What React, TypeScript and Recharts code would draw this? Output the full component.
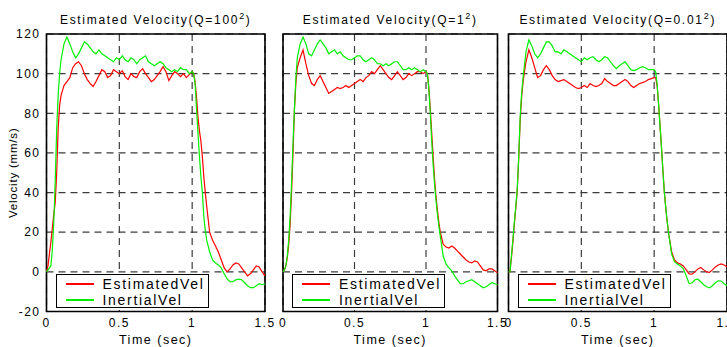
import { LineChart, Line, XAxis, YAxis, CartesianGrid, ReferenceArea, Legend } from 'recharts';

// time axis (sec): dense on the edges, coarser on the plateau
const TIME = [
  0, 0.01, 0.02, 0.03, 0.04, 0.05, 0.06, 0.07, 0.08, 0.09, 0.1,
  0.12, 0.14, 0.16, 0.18, 0.2, 0.22, 0.24, 0.26, 0.28, 0.3,
  0.32, 0.34, 0.36, 0.38, 0.4, 0.42, 0.44, 0.46, 0.48, 0.5,
  0.52, 0.54, 0.56, 0.58, 0.6, 0.62, 0.64, 0.66, 0.68, 0.7,
  0.72, 0.74, 0.76, 0.78, 0.8, 0.82, 0.84, 0.86, 0.88, 0.9,
  0.92, 0.94, 0.96, 0.98, 1.0,
  1.01, 1.02, 1.03, 1.04, 1.05, 1.06, 1.07, 1.08, 1.09, 1.1,
  1.12, 1.14, 1.16, 1.18, 1.2, 1.22, 1.24, 1.26, 1.28, 1.3,
  1.32, 1.34, 1.36, 1.38, 1.4, 1.42, 1.44, 1.46, 1.48, 1.5,
];

// Q = 100^2
const EST_Q100 = [
  0, 3, 9, 15, 22, 29, 35, 50, 72, 84, 89,
  94, 96, 98, 103, 105, 106, 104, 100, 97, 95,
  93.5, 96, 99, 102, 101, 98, 99, 102, 101, 100,
  101.5, 98.5, 97, 100, 98.5, 98, 101, 102.5, 100, 98,
  96, 97, 99, 101, 103.5, 101, 96.5, 99, 101, 100,
  98.5, 100, 98, 99.5, 101,
  100, 96, 88, 78, 71, 66, 58, 48, 40, 33,
  20, 16, 13, 10, 6, 2, 0, 1.5, 3.5, 4.5,
  4, 2, 0, -2, -1, 1, 3, 2.5, 0, -2,
];
const INE_Q100 = [
  0, 1, 2, 3, 11, 25, 46, 72, 89, 100, 107,
  115, 118.5, 115, 111, 108, 110, 113, 116, 115, 113,
  111, 110, 112, 110, 109, 108, 107, 106, 108, 107,
  109, 107, 106, 108, 107, 105, 107, 108, 109, 106,
  105, 104, 105, 106, 105, 103, 102, 101, 102, 101,
  103, 102, 102, 100, 101,
  100, 95, 82, 70, 58, 48, 40, 28, 21, 16,
  10, 6, 4.5, 3.5, 2, -1, -3.5, -5, -5, -4,
  -3.7, -4, -5.5, -7, -8, -8, -7, -6, -6.5, -6,
];

// Q = 1^2
const EST_Q1 = [
  0, 1, 3, 7, 14, 24, 40, 60, 82, 95, 103,
  108, 112, 105, 99, 95, 94, 97, 99, 96, 93,
  90, 91, 92, 93, 92.5, 93, 94, 93, 94, 95,
  96, 97, 96, 98, 99, 101, 100, 102, 104, 102,
  100, 98, 97, 99, 101, 99, 97, 98, 100, 99,
  100, 101, 101, 100, 101,
  100, 93, 82, 70, 58, 47, 38, 31, 25, 20,
  14, 12.5, 12, 13, 12, 10.5, 9, 7.5, 6, 5,
  4.5, 5.5, 5, 3, 1, 0.5, 1.5, 1.5, 0.5, -0.5,
];
const INE_Q1 = [
  0, 1, 3, 8, 16, 28, 45, 65, 82, 98, 108,
  115, 118.5, 115, 110, 109, 112, 115, 117, 115, 113,
  110, 111, 112, 110, 111, 109, 108, 107, 107, 108,
  109, 109, 107, 106, 107, 108, 107, 105, 105, 104,
  105, 104, 105, 106, 106, 104, 102, 102, 103, 102,
  103, 102, 101, 102, 101,
  100, 92, 80, 66, 54, 44, 36, 29, 23, 18,
  8, 4, 2, 0.5, -2, -4, -6, -6, -5, -4.5,
  -4, -5, -6, -7, -8, -7.5, -6.5, -5.5, -6, -6.5,
];

// Q = 0.01^2
const EST_Q001 = [
  0, 0, 7, 15, 24, 32, 41, 57, 76, 88, 96,
  106, 112, 108, 103, 98, 99, 102, 104, 102, 99,
  97, 96, 96.5, 97, 96, 95, 94, 93, 92.5, 93,
  94, 93, 95, 94, 93.5, 94, 95, 97.5, 96, 95,
  94, 94, 95, 96, 97, 96, 94, 93, 94, 95,
  95.5, 96, 97, 97.5, 98,
  98, 94, 85, 74, 63, 51, 40, 32, 25, 19,
  10, 6, 4.5, 4, 3, 1, -1, -1.2, 0, 1.5,
  2.2, 1, 0, -0.3, 1, 2.5, 3.5, 4, 3.5, 2.5,
];
const INE_Q001 = [
  0, 0, 8, 16, 25, 33, 42, 58, 78, 90, 98,
  111, 117, 114, 110, 108, 110, 113, 116, 116, 114,
  111, 111, 110, 112, 111, 110, 109, 108, 107, 106,
  108, 107, 108, 108.5, 107, 106, 107, 108.5, 108, 106,
  104, 102.5, 104, 105, 106, 104, 102, 101.5, 102, 103,
  103.5, 103, 102, 102, 102,
  101, 95, 85, 74, 63, 51, 40, 32, 25, 19,
  9, 5, 4, 3, 1.5, -2, -6, -5.5, -4, -3.7,
  -5, -6.5, -7.5, -8, -7, -5.5, -4.5, -4.6, -6, -7,
];

const X_TICKS = [0, 0.5, 1, 1.5];
const Y_TICKS = [-20, 0, 20, 40, 60, 80, 100, 120];

const FONT = '"Liberation Sans", Arial, Helvetica, sans-serif';

function LegendBox({ payload }: any) {
  return (
    <div
      style={{
        width: 151,
        height: 32,
        border: '1.5px solid #000',
        background: '#fff',
        fontFamily: FONT,
        fontSize: 14,
        letterSpacing: 1.7,
        color: '#000',
      }}
    >
      {(payload || []).map((p: any, i: number) => (
        <div key={i} style={{ display: 'flex', alignItems: 'center', height: 16, marginTop: i === 0 ? 1 : 0 }}>
          <span style={{ display: 'inline-block', width: 28, height: 1.3, background: p.color, marginLeft: 9, marginRight: 9 }} />
          <span style={{ lineHeight: '16px' }}>{p.value}</span>
        </div>
      ))}
    </div>
  );
}

type PanelProps = {
  left: number;
  width: number;
  plotLeft: number;
  plotWidth: number;
  q: string;
  est: number[];
  ine: number[];
  showY: boolean;
};

function Panel({ left, width, plotLeft, plotWidth, q, est, ine, showY }: PanelProps) {
  const rows = TIME.map((t, i) => ({ t, est: est[i], ine: ine[i] }));
  const yw = showY ? 46 : 0;
  const ml = plotLeft - left - yw;
  const mr = width - ml - yw - plotWidth;
  return (
    <div style={{ position: 'absolute', left, top: 0, width, height: 347 }}>
      <div
        style={{
          position: 'absolute',
          left: plotLeft - left - 20,
          width: plotWidth + 40,
          top: 13,
          textAlign: 'center',
          fontSize: 12,
          lineHeight: '14px',
          letterSpacing: 1.7,
          fontFamily: FONT,
          color: '#000',
          whiteSpace: 'nowrap',
        }}
      >
        Estimated Velocity(Q={q}
        <sup style={{ fontSize: 9, lineHeight: 0, verticalAlign: 5 }}>2</sup>)
      </div>
      <LineChart
        width={width}
        height={347}
        data={rows}
        margin={{ top: 34, right: mr, bottom: 0, left: ml }}
        style={{ fontFamily: FONT, letterSpacing: 1.5 }}
      >
        <CartesianGrid stroke="#3c3c3c" strokeWidth={1.2} strokeDasharray="7 5" />
        <XAxis
          dataKey="t"
          type="number"
          domain={[0, 1.5]}
          ticks={X_TICKS}
          height={35.5}
          axisLine={false}
          tickLine={false}
          tickSize={5}
          tick={{ fontSize: 12, fill: '#000' }}
          label={{ value: 'Time (sec)', position: 'insideBottom', offset: 3, fontSize: 12.5, fill: '#000' }}
        />
        <YAxis
          type="number"
          domain={[-20, 120]}
          ticks={Y_TICKS}
          width={yw}
          axisLine={false}
          tickLine={false}
          tickSize={4}
          tick={{ fontSize: 12, fill: showY ? '#000' : 'transparent' }}
          label={
            showY
              ? {
                  value: 'Velocity (mm/s)',
                  angle: -90,
                  position: 'insideLeft',
                  offset: 12,
                  fontSize: 11.5,
                  fill: '#000',
                  style: { textAnchor: 'middle', letterSpacing: 0.8 },
                }
              : undefined
          }
        />
        <Line
          dataKey="est"
          name="EstimatedVel"
          type="linear"
          stroke="#ff0000"
          strokeWidth={1.2}
          dot={false}
          isAnimationActive={false}
        />
        <Line
          dataKey="ine"
          name="InertialVel"
          type="linear"
          stroke="#00f000"
          strokeWidth={1.2}
          dot={false}
          isAnimationActive={false}
        />
        <ReferenceArea x1={0} x2={1.5} y1={-20} y2={120} fill="none" stroke="#000" strokeWidth={1.6} />
        <Legend
          layout="horizontal"
          verticalAlign="middle"
          align="center"
          content={<LegendBox />}
          wrapperStyle={{ left: plotLeft - left + 9, top: 274, width: 'auto' }}
        />
      </LineChart>
    </div>
  );
}

export default function App() {
  return (
    <div
      style={{
        position: 'fixed',
        left: 0,
        top: 0,
        width: 727,
        height: 347,
        overflow: 'hidden',
        background: '#fff',
      }}
    >
      <Panel left={0} width={280} plotLeft={46.5} plotWidth={218.5} q="100" est={EST_Q100} ine={INE_Q100} showY />
      <Panel left={270} width={242} plotLeft={283} plotWidth={214.5} q="1" est={EST_Q1} ine={INE_Q1} showY={false} />
      <Panel left={495} width={250} plotLeft={508.5} plotWidth={218.5} q="0.01" est={EST_Q001} ine={INE_Q001} showY={false} />
    </div>
  );
}
